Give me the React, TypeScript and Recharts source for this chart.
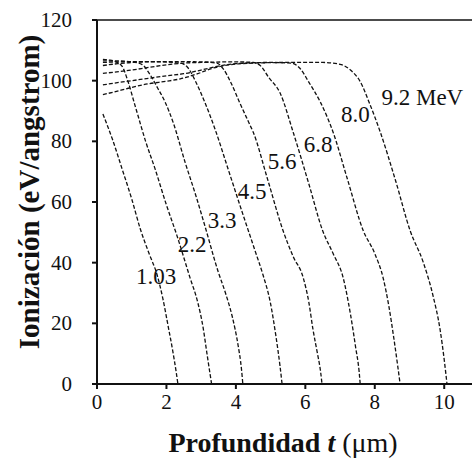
import { LineChart, Line, XAxis, YAxis, ReferenceLine, ReferenceDot } from "recharts"

// energies of the ions (curve labels)
const energies = ["1.03", "2.2", "3.3", "4.5", "5.6", "6.8", "8.0", "9.2 MeV"]

// depth (um) and ionization (eV/angstrom) for each curve
const depth103 = [0.17, 0.45, 0.72, 1.0, 1.25, 1.5, 1.73, 1.9, 2.05, 2.18, 2.28, 2.33]
const ion103 = [89, 80.5, 71, 61, 51, 43, 36, 28, 19, 11, 4, 0]

const depth22 = [0.17, 0.35, 0.55, 0.72, 0.9, 1.09, 1.18, 1.4, 1.67, 2.0, 2.3, 2.68, 2.9, 3.05, 3.18, 3.26, 3.3]
const ion22 = [107, 106.8, 106.2, 104.8, 99.5, 92, 88.5, 80, 71, 59, 49, 35, 27, 19, 9, 3, 0]

const depth33 = [0.17, 0.6, 1.0, 1.3, 1.5, 1.75, 1.96, 2.2, 2.54, 2.85, 3.11, 3.49, 3.7, 3.9, 4.06, 4.16, 4.2]
const ion33 = [106.5, 106.5, 106.2, 105.3, 102.5, 97.5, 93, 86, 73, 62, 52, 37, 30, 22, 13, 5, 0]

const depth45 = [0.17, 1.0, 1.8, 2.4, 2.6, 2.85, 3.1, 3.4, 3.8, 4.2, 4.55, 4.78, 4.99, 5.15, 5.27, 5.33]
const ion45 = [106, 106.3, 106.2, 105.8, 104.5, 99.5, 93, 84, 70, 56, 44, 36, 27, 16, 6, 0]

const depth56 = [0.17, 0.6, 1.0, 2.0, 3.0, 3.45, 3.63, 3.85, 4.1, 4.4, 4.5, 4.9, 5.36, 5.65, 5.94, 6.1, 6.22, 6.35, 6.44, 6.48]
const ion56 = [105, 105.6, 106, 106.3, 106.2, 105.8, 104, 99.5, 93, 85.5, 83, 68, 50.5, 42, 35, 27, 18, 10, 4, 0]

const depth68 = [0.17, 0.5, 1.0, 1.5, 2.0, 2.5, 3.0, 4.0, 4.5, 4.7, 4.95, 5.27, 5.65, 6.1, 6.5, 6.8, 7.09, 7.3, 7.45, 7.55, 7.58]
const ion68 = [102.4, 102.8, 103.5, 104.4, 105.2, 105.8, 106, 106.2, 106, 105, 101, 96, 83, 66, 50.5, 43, 35, 23, 12, 4, 0]

const depth80 = [0.17, 0.5, 1.0, 1.5, 2.0, 2.5, 3.0, 3.5, 4.0, 5.0, 5.6, 5.85, 6.1, 6.43, 6.8, 7.2, 7.67, 8.0, 8.24, 8.4, 8.55, 8.66, 8.73]
const ion80 = [98.6, 99.2, 100, 100.8, 101.6, 102.3, 103.5, 104.8, 105.6, 106, 105.8, 104, 99.5, 93, 83, 68, 50.5, 43, 35, 26, 15, 6, 0]

const depth92 = [0.17, 0.5, 0.9, 1.5, 2.0, 2.4, 2.9, 3.3, 3.8, 4.5, 5.5, 6.5, 7.0, 7.3, 7.58, 7.85, 8.16, 8.6, 9.02, 9.4, 9.68, 9.88, 10.0, 10.08]
const ion92 = [95.4, 96.3, 97.5, 99, 99.8, 100.6, 102.3, 104, 105.2, 105.8, 106, 106, 105.4, 103.5, 99.7, 92.5, 83, 67, 50.5, 40, 29, 18, 8, 0]

// where the energy labels sit (centre of text)
const labelDepth = [1.7, 2.74, 3.6, 4.47, 5.33, 6.37, 7.44, 9.37]
const labelIon = [35.4, 45.9, 53.8, 63.6, 73.4, 79, 88.9, 94.4]

const xTicks = [0, 2, 4, 6, 8, 10]
const yTicks = [0, 20, 40, 60, 80, 100, 120]

const curves = [
  [depth103, ion103],
  [depth22, ion22],
  [depth33, ion33],
  [depth45, ion45],
  [depth56, ion56],
  [depth68, ion68],
  [depth80, ion80],
  [depth92, ion92],
].map(([xs, ys]) => xs.map((x, i) => ({ t: x, ion: ys[i] })))

const ink = "#111"
const serif = "Liberation Serif"

const XTick = ({ x, y, payload }: any) => (
  <text x={x} y={y + 14} textAnchor="middle" fontSize={21} fill={ink} style={{ fontFamily: serif }}>
    {payload.value}
  </text>
)

const YTick = ({ x, y, payload }: any) => (
  <text x={x} y={y} textAnchor="end" dominantBaseline="central" fontSize={21} fill={ink} style={{ fontFamily: serif }}>
    {payload.value}
  </text>
)

const CurveLabel = ({ viewBox, value }: any) => (
  <text
    x={viewBox.x + viewBox.width / 2}
    y={viewBox.y + viewBox.height / 2}
    textAnchor="middle"
    dominantBaseline="central"
    fontSize={23}
    fill={ink}
    style={{ fontFamily: serif }}
  >
    {value}
  </text>
)

const YTitle = () => (
  <text
    x={29}
    y={192}
    transform="rotate(-90 29 192)"
    textAnchor="middle"
    dominantBaseline="central"
    fontWeight="bold"
    fontSize={29}
    fill={ink}
    style={{ fontFamily: serif }}
  >
    Ionización (eV/angstrom)
  </text>
)

const XTitle = () => (
  <text x={283} y={442} textAnchor="middle" dominantBaseline="central" fontSize={28} fill={ink} style={{ fontFamily: serif }}>
    <tspan fontWeight="bold">Profundidad </tspan>
    <tspan fontWeight="bold" fontStyle="italic">t</tspan>
    <tspan> (μm)</tspan>
  </text>
)

export default function App() {
  return (
    <div style={{ position: "absolute", left: 0, top: 0, background: "#fff", fontFamily: serif }}>
      <LineChart width={472} height={460} margin={{ top: 20, right: 0, bottom: 0, left: 0 }}>
        <XAxis
          type="number"
          dataKey="t"
          domain={[0, 10.8]}
          ticks={xTicks}
          allowDataOverflow
          height={76}
          tickSize={5}
          tickMargin={6}
          stroke={ink}
          strokeWidth={2}
          tick={<XTick />}
          label={{ content: () => <XTitle /> }}
        />
        <YAxis
          type="number"
          domain={[0, 120]}
          ticks={yTicks}
          width={97}
          tickSize={5}
          tickMargin={20}
          stroke={ink}
          strokeWidth={2}
          tick={<YTick />}
          label={{ content: () => <YTitle /> }}
        />
        <ReferenceLine y={120} stroke={ink} strokeWidth={1.5} />
        {curves.map((pts, i) => (
          <Line
            key={energies[i]}
            data={pts}
            dataKey="ion"
            type="monotone"
            stroke={ink}
            strokeWidth={1.3}
            strokeDasharray="4 2"
            dot={false}
            isAnimationActive={false}
          />
        ))}
        {energies.map((e, i) => (
          <ReferenceDot
            key={"lbl" + e}
            x={labelDepth[i]}
            y={labelIon[i]}
            r={0}
            fill="none"
            stroke="none"
            label={<CurveLabel value={e} />}
          />
        ))}
      </LineChart>
    </div>
  )
}
